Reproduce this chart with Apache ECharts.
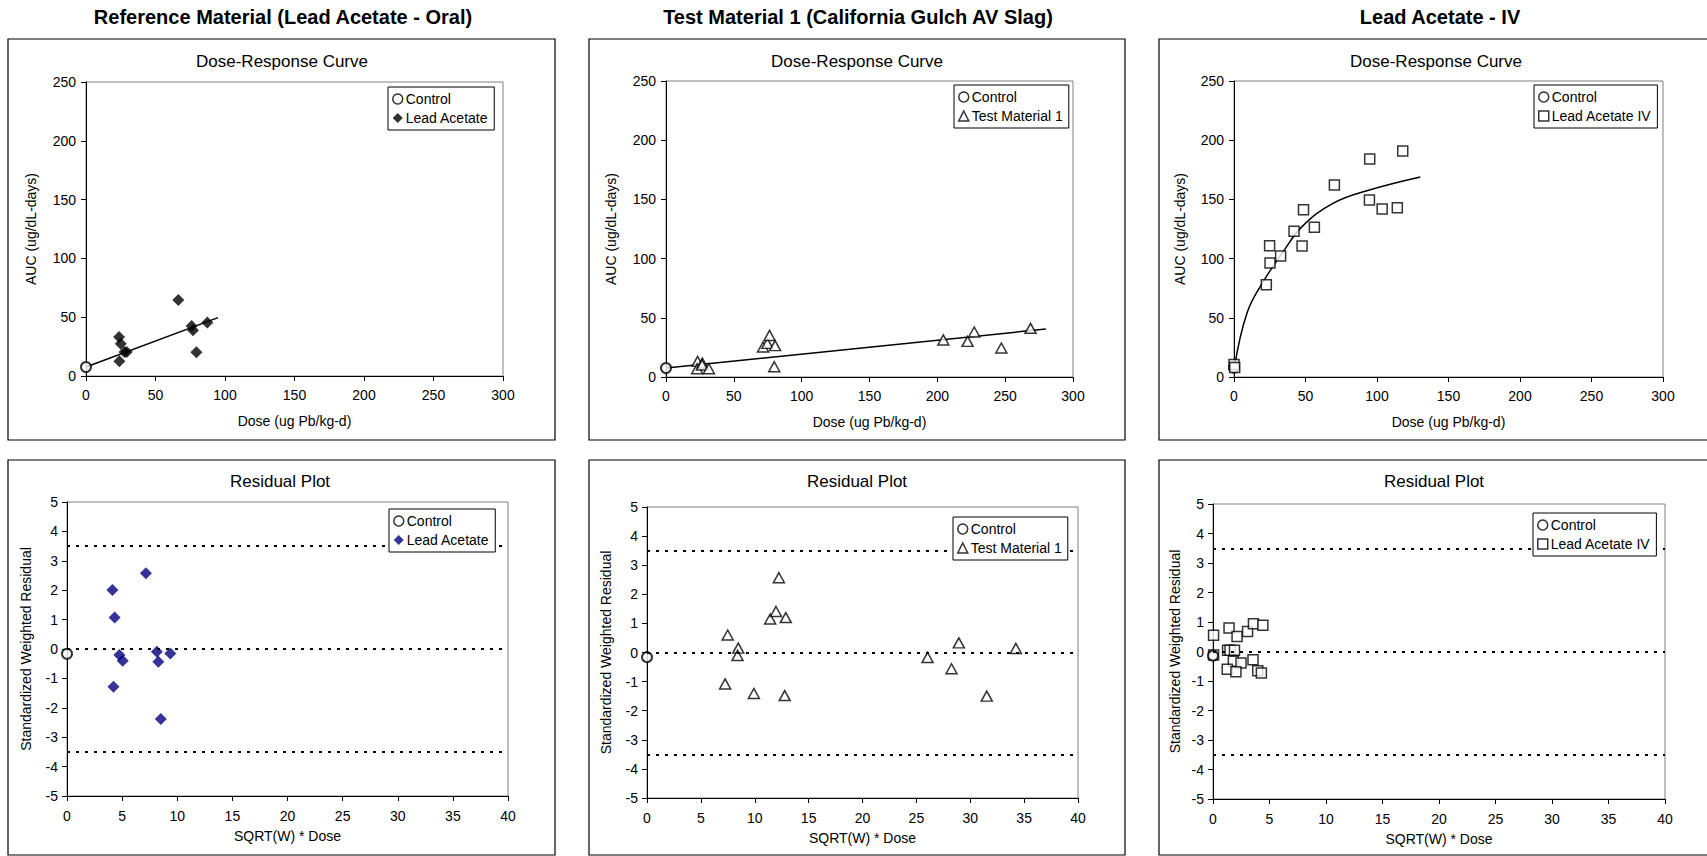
<!DOCTYPE html>
<html><head><meta charset="utf-8">
<script src="https://cdn.jsdelivr.net/npm/echarts@6/dist/echarts.min.js"></script>
<style>html,body{margin:0;padding:0;background:#fff}#c{width:1707px;height:856px}</style>
</head><body><div id="c"></div>
<script>
// ---------- text ----------
const panelTitles = ['Reference Material (Lead Acetate - Oral)', 'Test Material 1 (California Gulch AV Slag)', 'Lead Acetate - IV'];
const topSubtitle = 'Dose-Response Curve';
const bottomSubtitle = 'Residual Plot';
const doseAxisName = 'Dose (ug Pb/kg-d)';
const aucAxisName = 'AUC (ug/dL-days)';
const resXAxisName = 'SQRT(W) * Dose';
const resYAxisName = 'Standardized Weighted Residual';
const controlName = 'Control';
const materialNames = ['Lead Acetate', 'Test Material 1', 'Lead Acetate IV'];

// ---------- axis ranges ----------
const doseRange = [0, 300, 50];
const aucRange = [0, 250, 50];
const resXRange = [0, 40, 5];
const resYRange = [-5, 5, 1];
const refLines = [3.5, 0, -3.5];

// ---------- dose-response data [dose, AUC] ----------
const controlDose1 = [[0, 7.7]];
const leadOralDose = [[23.8, 33.2], [25, 27.5], [24, 12.5], [27.7, 20.4], [29.3, 20.4], [66.4, 64.6], [76, 42.5], [77, 38.8], [79.4, 20.1], [87.3, 45.4]];
const leadOralFit = [[0, 7.7], [95, 49.6]];

const controlDose2 = [[0, 7.6]];
const tm1Dose = [[23.3, 13.2], [23, 7], [26.8, 11.8], [26.6, 10.2], [31.6, 7], [71.5, 25.3], [74.7, 28.4], [76.3, 35.1], [80.4, 26.5], [79.8, 8.7], [204.4, 31.3], [222.3, 30.1], [227.2, 38], [247.2, 24.5], [268.7, 41.1]];
const tm1Fit = [[0, 7.6], [280, 40.5]];

const controlDose3 = [[0, 8]];
const ivDose = [[0, 10.5], [0.5, 8], [22.6, 78], [24.9, 110.9], [25.2, 96.3], [32.6, 102.2], [42, 123], [47.6, 110.6], [48.6, 141.3], [56.2, 126.4], [70.2, 162.2], [94.9, 184.1], [94.7, 149.5], [103.6, 141.9], [114.2, 143], [118, 190.9]];
const ivFit = [[0, 6], [9.4, 55.2], [22.6, 84.7], [33.6, 104.4], [47.6, 127], [69.2, 146.7], [94.7, 158], [130.3, 169]];

// ---------- residual data [sqrt(W)*dose, residual] ----------
const controlRes1 = [[0, -0.16]];
const leadOralRes = [[4.12, 2.01], [4.32, 1.07], [4.22, -1.28], [4.75, -0.2], [5.05, -0.4], [7.16, 2.58], [8.15, -0.09], [8.28, -0.43], [8.51, -2.38], [9.37, -0.15]];
const controlRes2 = [[0, -0.16]];
const tm1Res = [[7.49, 0.6], [8.47, 0.15], [8.4, -0.1], [7.25, -1.08], [9.92, -1.41], [11.43, 1.15], [11.97, 1.41], [12.24, 2.57], [12.88, 1.2], [12.78, -1.48], [26.04, -0.17], [28.26, -0.56], [28.94, 0.33], [31.53, -1.5], [34.23, 0.14]];
const controlRes3 = [[0, -0.14]];
const ivRes = [[0.05, 0.55], [0.05, -0.12], [1.42, 0.8], [2.13, 0.51], [3.06, 0.68], [3.58, 0.94], [4.41, 0.89], [1.29, 0.04], [1.51, 0.04], [1.9, 0.04], [1.8, -0.33], [2.48, -0.39], [3.54, -0.28], [1.26, -0.6], [2.03, -0.69], [3.96, -0.65], [4.28, -0.73]];

// ---------- layout ----------
const FONT = "'Liberation Sans', Arial, sans-serif";
const boxes = [
  [8, 39, 547, 401], [589, 39, 536, 401], [1159, 39, 560, 401],
  [8, 460, 547, 395], [589, 460, 536, 395], [1159, 460, 560, 395]
];
const grids = [
  {left: 86, top: 82, width: 417, height: 294},
  {left: 666, top: 81, width: 407, height: 296},
  {left: 1234, top: 81, width: 429, height: 296},
  {left: 67, top: 502, width: 441, height: 294},
  {left: 647, top: 507, width: 431, height: 291},
  {left: 1213, top: 504, width: 452, height: 295}
];
const titleCenters = [283, 858, 1440];
const subTitleCenters = [282, 857, 1436, 280, 857, 1434];
const legendPos = [[388, 87], [954, 85], [1534, 85], [389, 509], [953, 517], [1533, 513]];
const yNameGaps = [48, 48, 47, 34, 34, 31];
const xNameGaps = [38, 38, 38, 33, 33, 33];

const black = '#000';
const navy = '#000080';

function makeAxis(gi, r, name, gap, margin) {
  return {
    gridIndex: gi, type: 'value', min: r[0], max: r[1], interval: r[2],
    name: name, nameLocation: 'middle', nameGap: gap,
    nameTextStyle: {fontSize: 14, color: black, fontFamily: FONT},
    axisLine: {show: true, onZero: false, lineStyle: {color: black, width: 1}},
    axisTick: {show: true, inside: false, length: 5, lineStyle: {color: black}},
    axisLabel: {fontSize: 14, color: black, margin: margin, fontFamily: FONT},
    splitLine: {show: false}
  };
}

const controlStyle = {color: '#fff', borderColor: black, borderWidth: 2};
const markerDefs = [
  {symbol: 'diamond', size: 12, style: {color: black}},
  {symbol: 'triangle', size: [11, 10], style: {color: '#fff', borderColor: black, borderWidth: 1.5}},
  {symbol: 'rect', size: 10, style: {color: '#fff', borderColor: black, borderWidth: 1.5}}
];
const resMarkerDefs = [
  {symbol: 'diamond', size: 12, style: {color: navy}},
  markerDefs[1], markerDefs[2]
];

const doseData = [leadOralDose, tm1Dose, ivDose];
const doseControl = [controlDose1, controlDose2, controlDose3];
const fits = [leadOralFit, tm1Fit, ivFit];
const resData = [leadOralRes, tm1Res, ivRes];
const resControl = [controlRes1, controlRes2, controlRes3];

const xAxes = [], yAxes = [], series = [], legends = [], graphics = [];

for (let i = 0; i < 6; i++) {
  const top = i < 3;
  xAxes.push(makeAxis(i, top ? doseRange : resXRange, top ? doseAxisName : resXAxisName, xNameGaps[i], top ? 12 : 13));
  yAxes.push(makeAxis(i, top ? aucRange : resYRange, top ? aucAxisName : resYAxisName, yNameGaps[i], top ? 10 : 9));
}

for (let p = 0; p < 3; p++) {
  series.push({
    type: 'line', name: 'fit' + p, xAxisIndex: p, yAxisIndex: p, data: fits[p],
    showSymbol: false, smooth: p === 2 ? 0.4 : false, silent: true,
    lineStyle: {color: black, width: 1.5}, z: 2
  });
  series.push({
    type: 'scatter', name: materialNames[p], xAxisIndex: p, yAxisIndex: p, data: doseData[p],
    symbol: markerDefs[p].symbol, symbolSize: markerDefs[p].size, itemStyle: markerDefs[p].style, z: 3
  });
  series.push({
    type: 'scatter', name: controlName, xAxisIndex: p, yAxisIndex: p, data: doseControl[p],
    symbol: 'circle', symbolSize: 10, itemStyle: controlStyle, z: p === 2 ? 2 : 4
  });
  const r = p + 3;
  series.push({
    type: 'scatter', name: materialNames[p], xAxisIndex: r, yAxisIndex: r, data: resData[p],
    symbol: resMarkerDefs[p].symbol, symbolSize: resMarkerDefs[p].size, itemStyle: resMarkerDefs[p].style, z: 3,
    markLine: {
      silent: true, symbol: ['none', 'none'], label: {show: false}, animation: false,
      lineStyle: {color: black, type: [3, 6], width: 2},
      data: refLines.map(v => ({yAxis: v}))
    }
  });
  series.push({
    type: 'scatter', name: controlName, xAxisIndex: r, yAxisIndex: r, data: resControl[p],
    symbol: 'circle', symbolSize: 10, itemStyle: controlStyle, z: 4
  });
}

for (let i = 0; i < 6; i++) {
  const p = i % 3;
  const md = i < 3 ? markerDefs[p] : resMarkerDefs[p];
  legends.push({
    left: legendPos[i][0], top: legendPos[i][1], orient: 'vertical',
    selectedMode: false, backgroundColor: '#fff', borderColor: black, borderWidth: 1,
    padding: [5, 6, 5, 4], itemGap: 5, itemWidth: 10, itemHeight: 10,
    textStyle: {fontSize: 14, color: black, fontFamily: FONT, padding: [0, 0, 0, -2]},
    data: [
      {name: controlName, icon: 'circle', itemStyle: {color: '#fff', borderColor: black, borderWidth: 1.5}},
      {name: materialNames[p], icon: md.symbol, itemStyle: Object.assign({}, md.style)}
    ],
    z: 10
  });
}

boxes.forEach(b => graphics.push({
  type: 'rect', shape: {x: b[0], y: b[1], width: b[2], height: b[3]},
  style: {fill: 'none', stroke: black, lineWidth: 1.2}, silent: true, z: 0
}));
panelTitles.forEach((t, i) => graphics.push({
  type: 'text', x: titleCenters[i], y: 17,
  style: {text: t, fill: black, fontSize: 20, fontWeight: 'bold', fontFamily: FONT, align: 'center', verticalAlign: 'middle'}
}));
for (let i = 0; i < 6; i++) {
  graphics.push({
    type: 'text', x: subTitleCenters[i], y: i < 3 ? 61 : 481,
    style: {text: i < 3 ? topSubtitle : bottomSubtitle, fill: black, fontSize: 17, fontFamily: FONT, align: 'center', verticalAlign: 'middle'}
  });
}

const chart = echarts.init(document.getElementById('c'), null, {renderer: 'svg'});
chart.setOption({
  animation: false,
  backgroundColor: '#fff',
  textStyle: {fontFamily: FONT},
  grid: grids.map(g => Object.assign({show: true, borderColor: '#808080', borderWidth: 1, backgroundColor: 'transparent'}, g)),
  xAxis: xAxes,
  yAxis: yAxes,
  legend: legends,
  series: series,
  graphic: graphics
});
</script></body></html>
